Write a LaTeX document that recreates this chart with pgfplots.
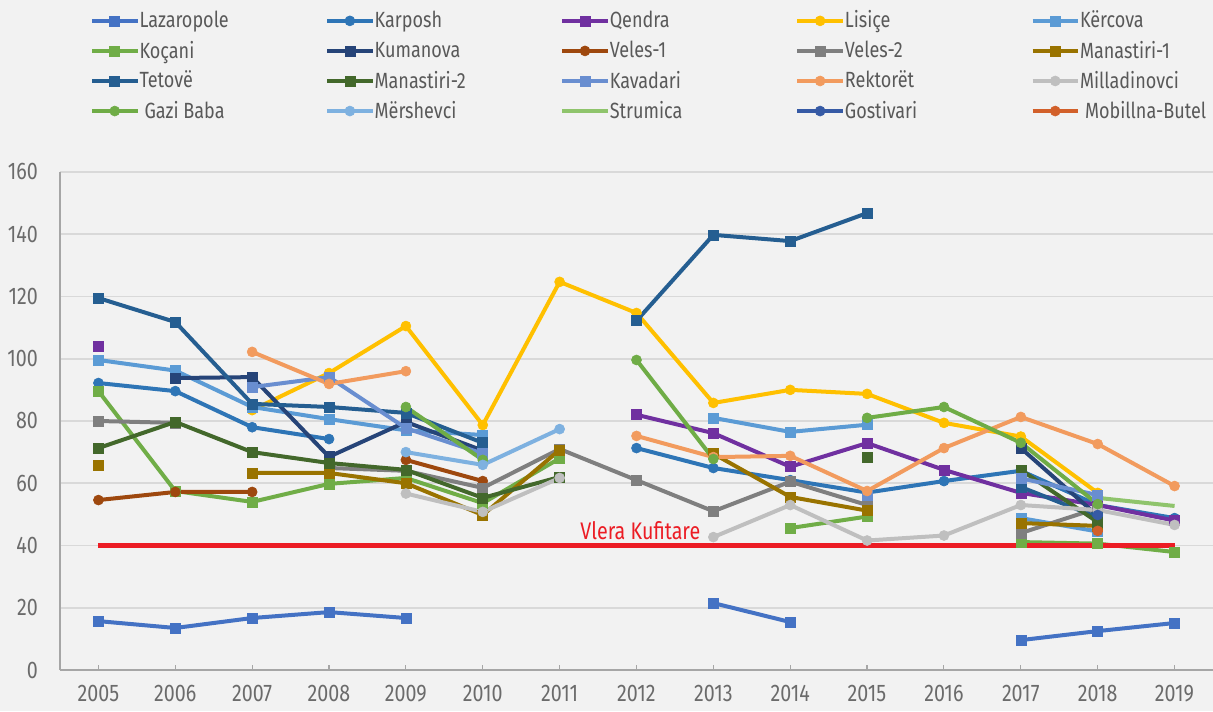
\documentclass[border=0pt]{standalone}
\usepackage{fontspec}
\setmainfont{Fira Sans}[FakeStretch=0.82]
\usepackage{pgfplots}
\pgfplotsset{compat=1.18}
\definecolor{bgc}{HTML}{F2F2F2}
\definecolor{gridc}{HTML}{D9D9D9}
\definecolor{axc}{HTML}{A6A6A6}
\definecolor{tickc}{HTML}{6B6B6B}
\definecolor{legc}{HTML}{595959}
\definecolor{cLaz}{HTML}{4472C4}
\definecolor{cKar}{HTML}{2E75B6}
\definecolor{cQen}{HTML}{7030A0}
\definecolor{cLis}{HTML}{FFC000}
\definecolor{cKer}{HTML}{5B9BD5}
\definecolor{cKoc}{HTML}{70AD47}
\definecolor{cKum}{HTML}{264478}
\definecolor{cVe1}{HTML}{9E480E}
\definecolor{cVe2}{HTML}{7F7F7F}
\definecolor{cMa1}{HTML}{997300}
\definecolor{cTet}{HTML}{255E91}
\definecolor{cMa2}{HTML}{43682B}
\definecolor{cKav}{HTML}{698ED0}
\definecolor{cRek}{HTML}{F29B5E}
\definecolor{cMil}{HTML}{BFBFBF}
\definecolor{cGaz}{HTML}{6FAC46}
\definecolor{cMer}{HTML}{7EB1E0}
\definecolor{cStr}{HTML}{8FC46C}
\definecolor{cGos}{HTML}{365AA5}
\definecolor{cMob}{HTML}{D2602A}
\definecolor{redc}{HTML}{EC1C24}
\newcommand\lentry[1]{\makebox[92.8pt][l]{\strut #1}}
\begin{document}
\begin{tikzpicture}
\path[use as bounding box, fill=bgc] (0,0) rectangle (606.5pt,355.5pt);
\begin{axis}[
  at={(30pt,20.5pt)}, anchor=south west,
  scale only axis, width=576.5pt, height=249pt,
  xmin=2004.5, xmax=2019.5, ymin=0, ymax=160,
  xtick={2005,...,2019}, ytick={0,20,...,160},
  axis x line*=bottom, axis y line*=left,
  axis line style={draw=axc, line width=0.8pt},
  ymajorgrids, grid style={draw=gridc, line width=0.8pt},
  ytick style={draw=none},
  xtick style={draw=axc, line width=0.6pt},
  tick align=inside, major tick length=2.5pt,
  tick label style={font=\fontsize{12}{12}\selectfont, text=tickc},
  /pgf/number format/assume math mode=true,
  xticklabel style={/pgf/number format/1000 sep={}, yshift=-4pt},
  yticklabel style={xshift=-7.5pt},
  unbounded coords=jump,
  clip=false,
  legend columns=5,
  legend cell align=left,
  legend style={draw=none, fill=none, inner sep=0pt, outer sep=0pt,
    at={(0,1)}, anchor=north west, xshift=15pt, yshift=80.6pt,
    font=\fontsize{11}{12}\selectfont, text=legc,
    nodes={inner sep=0pt},
    row sep=4.95pt,
    /tikz/every odd column/.append style={column sep=0pt},
    /tikz/every even column/.append style={column sep=0pt}},
  legend image code/.code={\draw[mark repeat=2,mark phase=2] plot coordinates {(0cm,0cm) (0.4cm,0cm) (0.8cm,0cm)};},
  ser/.style={color=#1, line width=2pt, mark size=2.5pt, mark options={line width=0.3pt}},
]
% Lazaropole
\addplot[ser=cLaz, mark=square*] coordinates {(2005,15.7) (2006,13.5) (2007,16.7) (2008,18.6) (2009,16.7) (2010,nan) (2013,21.5) (2014,15.4) (2015,nan) (2017,9.6) (2018,12.5) (2019,15.1)};
\addlegendentry{\lentry{Lazaropole}}
% Karposh
\addplot[ser=cKar, mark=*] coordinates {(2005,92.2) (2006,89.6) (2007,78) (2008,74.2) (2009,nan) (2012,71.3) (2013,64.9) (2014,61) (2015,57) (2016,60.7) (2017,64) (2018,53) (2019,48.8)};
\addlegendentry{\lentry{Karposh}}
% Qendra
\addplot[ser=cQen, mark=square*] coordinates {(2005,104) (2006,nan) (2012,82) (2013,76.1) (2014,65.3) (2015,72.9) (2016,64.3) (2017,56.9) (2018,53) (2019,48)};
\addlegendentry{\lentry{Qendra}}
% Lisice
\addplot[ser=cLis, mark=*] coordinates {(2007,83.5) (2008,95.4) (2009,110.5) (2010,78.7) (2011,124.7) (2012,114.7) (2013,85.8) (2014,90) (2015,88.7) (2016,79.4) (2017,75) (2018,56.9)};
\addlegendentry{\lentry{Lisiçe}}
% Kercova
\addplot[ser=cKer, mark=square*] coordinates {(2005,99.6) (2006,96.2) (2007,84.5) (2008,80.6) (2009,77) (2010,75.5) (2011,nan) (2013,81) (2014,76.5) (2015,78.8) (2016,nan) (2017,48.8) (2018,44.5)};
\addlegendentry{\lentry{Kërcova}}
% Kocani
\addplot[ser=cKoc, mark=square*] coordinates {(2005,89.6) (2006,57.5) (2007,54) (2008,59.8) (2009,61.7) (2010,53.6) (2011,68) (2012,nan) (2014,45.6) (2015,49.3) (2016,nan) (2017,41.1) (2018,40.6) (2019,37.9)};
\addlegendentry{\lentry{Koçani}}
% Kumanova
\addplot[ser=cKum, mark=square*] coordinates {(2006,93.8) (2007,94.1) (2008,68.5) (2009,79.7) (2010,70.5) (2011,nan) (2017,71.3) (2018,49.5)};
\addlegendentry{\lentry{Kumanova}}
% Veles-1
\addplot[ser=cVe1, mark=*] coordinates {(2005,54.6) (2006,57.2) (2007,57.2) (2008,nan) (2009,67.5) (2010,60.7)};
\addlegendentry{\lentry{Veles-1}}
% Veles-2
\addplot[ser=cVe2, mark=square*] coordinates {(2005,80) (2006,79.4) (2007,nan) (2008,64.9) (2009,64) (2010,58.5) (2011,71) (2012,61) (2013,51) (2014,60.5) (2015,53) (2016,nan) (2017,44) (2018,52)};
\addlegendentry{\lentry{Veles-2}}
% Manastiri-1
\addplot[ser=cMa1, mark=square*] coordinates {(2005,65.9) (2006,nan) (2007,63.3) (2008,63.3) (2009,60) (2010,49.8) (2011,70.7) (2012,nan) (2013,69.5) (2014,55.6) (2015,51.2) (2016,nan) (2017,47.2) (2018,46.3)};
\addlegendentry{\lentry{Manastiri-1}}
% Tetove
\addplot[ser=cTet, mark=square*] coordinates {(2005,119.5) (2006,111.8) (2007,85.5) (2008,84.5) (2009,82.6) (2010,73) (2011,nan) (2012,112.2) (2013,139.8) (2014,137.8) (2015,146.8) (2016,nan) (2017,58.8) (2018,49)};
\addlegendentry{\lentry{Tetovë}}
% Manastiri-2
\addplot[ser=cMa2, mark=square*] coordinates {(2005,71.3) (2006,79.7) (2007,70) (2008,66.5) (2009,64.3) (2010,55.3) (2011,62) (2012,nan) (2015,68.4) (2016,nan) (2017,64.3) (2018,47.5)};
\addlegendentry{\lentry{Manastiri-2}}
% Kavadari
\addplot[ser=cKav, mark=square*] coordinates {(2007,90.9) (2008,94.1) (2009,77.7) (2010,69.5) (2011,nan) (2015,56.2) (2016,nan) (2017,61.6) (2018,56.2)};
\addlegendentry{\lentry{Kavadari}}
% Rektoret
\addplot[ser=cRek, mark=*] coordinates {(2007,102.2) (2008,91.9) (2009,96) (2010,nan) (2012,75.2) (2013,68.4) (2014,68.8) (2015,57.5) (2016,71.3) (2017,81.3) (2018,72.6) (2019,59.1)};
\addlegendentry{\lentry{Rektorët}}
% Milladinovci
\addplot[ser=cMil, mark=*] coordinates {(2009,56.7) (2010,50.8) (2011,61.7) (2012,nan) (2013,42.7) (2014,53) (2015,41.6) (2016,43.2) (2017,53) (2018,51.4) (2019,46.6)};
\addlegendentry{\lentry{Milladinovci}}
% Gazi Baba
\addplot[ser=cGaz, mark=*] coordinates {(2009,84.5) (2010,67.5) (2011,nan) (2012,99.6) (2013,67.8) (2014,nan) (2015,81) (2016,84.5) (2017,73) (2018,53.3)};
\addlegendentry{\lentry{\hspace{2.5pt}Gazi Baba}}
% Mershevci
\addplot[ser=cMer, mark=*] coordinates {(2009,70) (2010,65.9) (2011,77.4)};
\addlegendentry{\lentry{Mërshevci}}
% Strumica
\addplot[ser=cStr, no markers] coordinates {(2018,55.3) (2019,52.7)};
\addlegendentry{\lentry{Strumica}}
% Gostivari
\addplot[ser=cGos, mark=*] coordinates {(2018,49.8)};
\addlegendentry{\lentry{Gostivari}}
% Mobillna-Butel
\addplot[ser=cMob, mark=*] coordinates {(2018,44.7)};
\addlegendentry{\lentry{\hspace{2.5pt}Mobillna-Butel}}
% threshold
\addplot[color=redc, line width=2.5pt, no markers, forget plot] coordinates {(2005,40) (2019,40)};
\node[text=redc, font=\fontsize{12}{12}\selectfont, anchor=base] at (axis cs:2012.05,41.8) {Vlera Kufitare};
\end{axis}
\end{tikzpicture}
\end{document}
